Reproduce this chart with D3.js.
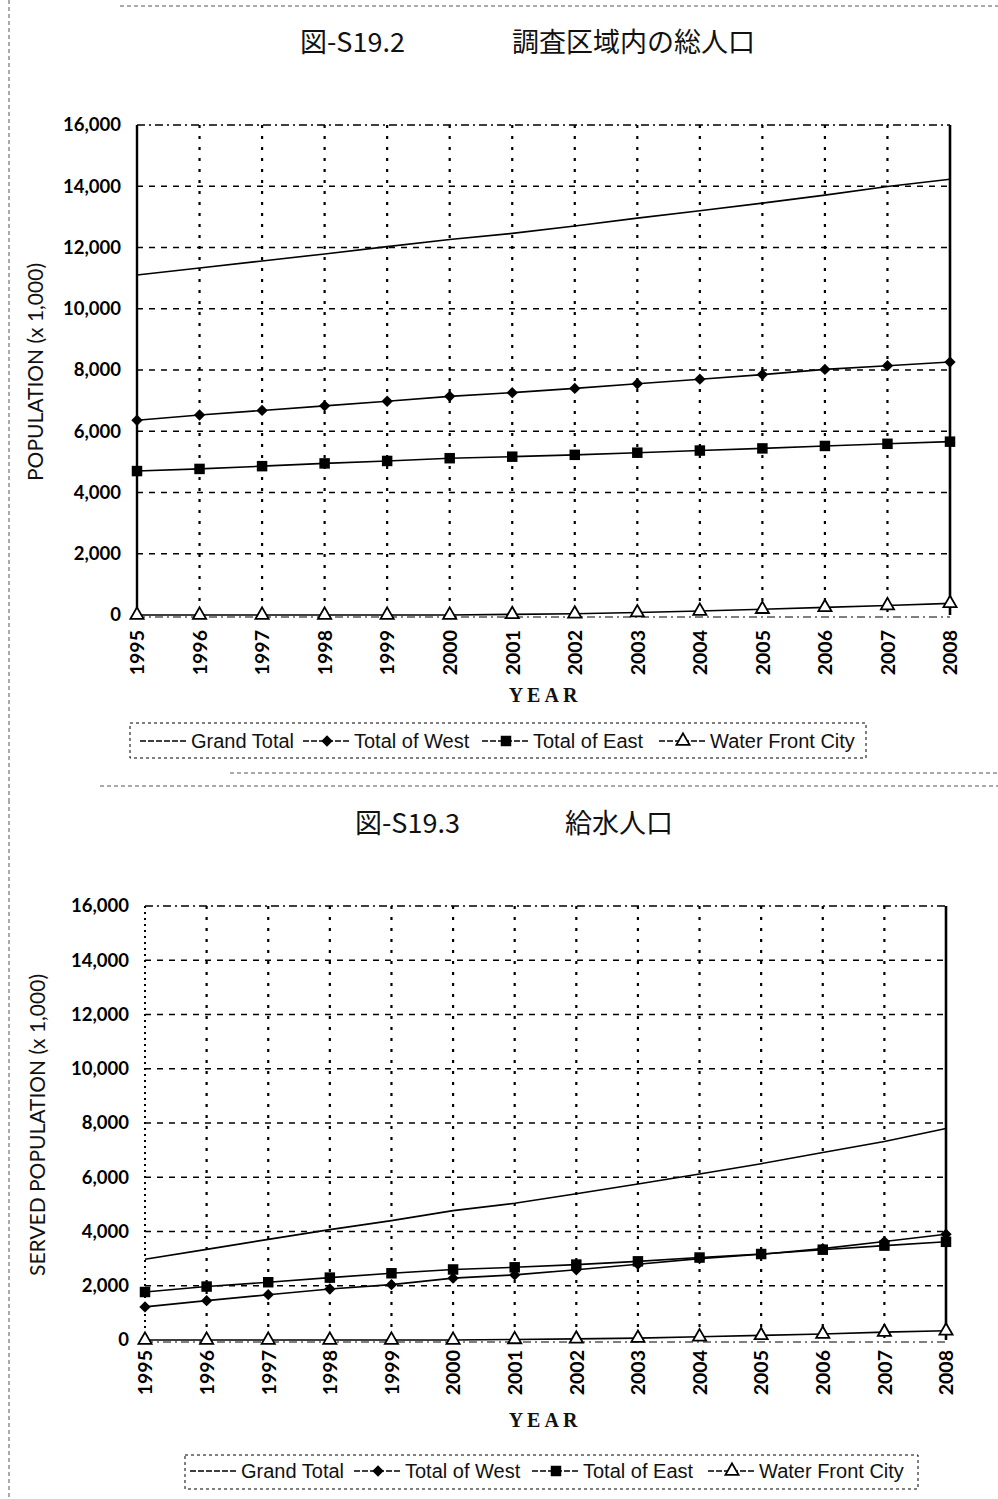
<!DOCTYPE html>
<head>
	<meta charset="utf-8">
	<script src="https://d3js.org/d3.v7.min.js"></script>
	<style>
		body { margin: 0; background: #fff; }
	</style>
</head>

<body>
	<script type="text/javascript">

		var w = 998;
		var h = 1499;

		// data (population, x 1,000 persons)
		var years = [1995, 1996, 1997, 1998, 1999, 2000, 2001, 2002, 2003, 2004, 2005, 2006, 2007, 2008];
		var yTicks = [0, 2000, 4000, 6000, 8000, 10000, 12000, 14000, 16000];
		var seriesNames = ["Grand Total", "Total of West", "Total of East", "Water Front City"];

		// 図-S19.2 調査区域内の総人口
		var totalGrand = [11100, 11330, 11560, 11790, 12030, 12260, 12460, 12700, 12960, 13200, 13450, 13710, 13990, 14230];
		var totalWest  = [6360, 6530, 6680, 6830, 6980, 7140, 7260, 7400, 7550, 7700, 7850, 8020, 8140, 8260];
		var totalEast  = [4700, 4770, 4860, 4950, 5030, 5120, 5170, 5230, 5300, 5370, 5440, 5520, 5590, 5660];
		var totalWater = [0, 0, 0, 0, 0, 0, 20, 40, 80, 130, 190, 250, 310, 380];

		// 図-S19.3 給水人口
		var servedGrand = [2980, 3340, 3710, 4070, 4400, 4770, 5040, 5390, 5750, 6120, 6500, 6910, 7320, 7800];
		var servedWest  = [1220, 1450, 1670, 1880, 2040, 2280, 2400, 2590, 2790, 3000, 3160, 3370, 3630, 3900];
		var servedEast  = [1770, 1970, 2130, 2300, 2460, 2600, 2680, 2780, 2900, 3040, 3170, 3330, 3480, 3620];
		var servedWater = [0, 0, 0, 0, 0, 0, 20, 40, 70, 120, 170, 220, 290, 340];

		var tickFont = "Lato, 'Open Sans', sans-serif";
		var legendFont = "'Liberation Sans Narrow', 'Liberation Sans', sans-serif";
		var titleFont = "'Noto Sans CJK JP', sans-serif";

		svg = d3.select("body")
				.append("svg")
				.attr("width", w)
				.attr("height", h);

		// scanned page edges
		var edges = [
			[120, 6, 998, 6], [9, 0, 9, 800], [9, 800, 9, 1499],
			[230, 773, 998, 773], [100, 786, 998, 786]
		];
		svg.selectAll("line.edge")
			.data(edges)
			.enter()
			.append("line")
			.attr("class", "edge")
			.attr("x1", function(d){ return d[0]; })
			.attr("y1", function(d){ return d[1]; })
			.attr("x2", function(d){ return d[2]; })
			.attr("y2", function(d){ return d[3]; })
			.attr("stroke", "#555")
			.attr("stroke-width", 1)
			.attr("stroke-dasharray", "4,3");

		var symbols = [null, "diamond", "square", "triangle"];

		function marker(sel, type) {
			if (type === "diamond") {
				sel.append("path")
					.attr("d", d3.symbol().type(d3.symbolSquare).size(64)())
					.attr("transform", "rotate(45)")
					.attr("fill", "#000");
			} else if (type === "square") {
				sel.append("path")
					.attr("d", d3.symbol().type(d3.symbolSquare).size(110)())
					.attr("fill", "#000");
			} else if (type === "triangle") {
				sel.append("path")
					.attr("d", d3.symbol().type(d3.symbolTriangle).size(75)())
					.attr("fill", "#fff")
					.attr("stroke", "#000")
					.attr("stroke-width", 1.8);
			}
		}

		function drawChart(opt) {
			var xScale = d3.scalePoint()
						.domain(years)
						.range([opt.x0, opt.x1]);
			var yScale = d3.scaleLinear()
						.domain([0, 16000])
						.range([opt.yBottom, opt.yTop]);

			var g = svg.append("g");

			// titles
			g.append("text")
				.text(opt.figNo)
				.attr("x", opt.figX)
				.attr("y", opt.titleY)
				.attr("font-family", titleFont)
				.attr("font-size", "27px")
				.attr("fill", "#111");
			g.append("text")
				.text(opt.title)
				.attr("x", opt.titleX)
				.attr("y", opt.titleY)
				.attr("font-family", titleFont)
				.attr("font-size", "27px")
				.attr("fill", "#111");

			// horizontal grid
			g.selectAll("line.hgrid")
				.data(yTicks.slice(1, -1))
				.enter()
				.append("line")
				.attr("x1", opt.x0)
				.attr("x2", opt.x1)
				.attr("y1", function(d){ return yScale(d); })
				.attr("y2", function(d){ return yScale(d); })
				.attr("stroke", "#000")
				.attr("stroke-width", 1.5)
				.attr("stroke-dasharray", "6,6");

			// vertical grid
			g.selectAll("line.vgrid")
				.data(years.slice(1, -1))
				.enter()
				.append("line")
				.attr("x1", function(d){ return xScale(d); })
				.attr("x2", function(d){ return xScale(d); })
				.attr("y1", yScale(16000))
				.attr("y2", yScale(0))
				.attr("stroke", "#000")
				.attr("stroke-width", 2.2)
				.attr("stroke-dasharray", "3,8");

			// frame
			g.append("line")
				.attr("x1", opt.x0).attr("x2", opt.x1)
				.attr("y1", yScale(16000)).attr("y2", yScale(16000))
				.attr("stroke", "#000").attr("stroke-width", 1.4)
				.attr("stroke-dasharray", "8,4,2,4");
			g.append("line")
				.attr("x1", opt.x0).attr("x2", opt.x1)
				.attr("y1", yScale(0) + 2).attr("y2", yScale(0) + 2)
				.attr("stroke", "#000").attr("stroke-width", 1)
				.attr("stroke-dasharray", "8,4,2,4");
			g.append("line")
				.attr("x1", opt.x0).attr("x2", opt.x0)
				.attr("y1", yScale(16000)).attr("y2", yScale(0))
				.attr("stroke", "#000")
				.attr("stroke-width", opt.leftSolid ? 2.4 : 2)
				.attr("stroke-dasharray", opt.leftSolid ? null : "2,4");
			g.append("line")
				.attr("x1", opt.x1).attr("x2", opt.x1)
				.attr("y1", yScale(16000)).attr("y2", yScale(0))
				.attr("stroke", "#000")
				.attr("stroke-width", 2.6);

			// y tick labels
			var yAxis = d3.axisLeft(yScale)
						.tickValues(yTicks)
						.tickSize(0)
						.tickPadding(0)
						.tickFormat(d3.format(","));
			var ya = g.append("g")
				.attr("transform", "translate(" + opt.yLabelX + ",0)")
				.call(yAxis);
			ya.select(".domain").remove();
			ya.selectAll("text")
				.attr("font-family", tickFont)
				.attr("font-size", "18.5px")
				.attr("font-weight", "bold")
				.attr("fill", "#000");

			// year labels
			var xAxis = d3.axisBottom(xScale)
						.tickSize(0);
			var xa = g.append("g")
				.attr("transform", "translate(0," + opt.yearY + ")")
				.call(xAxis);
			xa.select(".domain").remove();
			xa.selectAll("text")
				.attr("transform", "rotate(-90)")
				.attr("x", 0)
				.attr("y", 0)
				.attr("dy", "0.35em")
				.attr("text-anchor", "end")
				.attr("font-family", tickFont)
				.attr("font-size", "19.5px")
				.attr("font-weight", "bold")
				.attr("fill", "#000");

			// axis titles
			g.append("text")
				.text("YEAR")
				.attr("x", 545)
				.attr("y", opt.yearTitleY)
				.attr("text-anchor", "middle")
				.attr("letter-spacing", "4px")
				.attr("font-family", "'Liberation Serif', serif")
				.attr("font-size", "20px")
				.attr("font-weight", "bold")
				.attr("fill", "#111");
			g.append("text")
				.text(opt.yTitle)
				.attr("transform", "translate(" + opt.yTitleX + "," + opt.yTitleY + ") rotate(-90)")
				.attr("text-anchor", "middle")
				.attr("dy", "0.35em")
				.attr("font-family", tickFont)
				.attr("font-size", "21px")
				.attr("fill", "#111");

			// series
			var line = d3.line()
						.x(function(d, i){ return xScale(years[i]); })
						.y(function(d){ return yScale(d); });

			opt.series.forEach(function(vals, k) {
				g.append("path")
					.datum(vals)
					.attr("d", line)
					.attr("fill", "none")
					.attr("stroke", "#000")
					.attr("stroke-width", 1.6);
				if (symbols[k]) {
					g.selectAll("g.m" + k)
						.data(vals)
						.enter()
						.append("g")
						.attr("class", "m" + k)
						.attr("transform", function(d, i){
							return "translate(" + xScale(years[i]) + "," + yScale(d) + ")";
						})
						.each(function(){ marker(d3.select(this), symbols[k]); });
				}
			});

			// legend
			var lg = g.append("g");
			lg.append("rect")
				.attr("x", opt.legendBox[0])
				.attr("y", opt.legendBox[1])
				.attr("width", opt.legendBox[2] - opt.legendBox[0])
				.attr("height", opt.legendBox[3] - opt.legendBox[1])
				.attr("fill", "none")
				.attr("stroke", "#000")
				.attr("stroke-width", 1)
				.attr("stroke-dasharray", "3,3");
			var items = lg.selectAll("g.item")
				.data(seriesNames)
				.enter()
				.append("g")
				.attr("transform", function(d, i){
					return "translate(" + opt.legendX[i] + "," + opt.legendY + ")";
				});
			items.append("line")
				.attr("x1", 0)
				.attr("x2", 48)
				.attr("stroke", "#000")
				.attr("stroke-width", 1.4)
				.attr("stroke-dasharray", "6,2");
			items.each(function(d, i){
				var s = d3.select(this).append("g").attr("transform", "translate(24,0)");
				if (symbols[i]) marker(s, symbols[i]);
			});
			items.append("text")
				.text(function(d){ return d; })
				.attr("x", 51)
				.attr("dy", "0.35em")
				.attr("font-family", legendFont)
				.attr("font-size", "20px")
				.attr("fill", "#111");
		}

		drawChart({
			figNo: "図-S19.2", figX: 300, title: "調査区域内の総人口", titleX: 512, titleY: 52,
			x0: 137, x1: 950, yTop: 125, yBottom: 615, leftSolid: true,
			yLabelX: 121, yearY: 630, yearTitleY: 702,
			yTitle: "POPULATION (x 1,000)", yTitleX: 36, yTitleY: 372,
			series: [totalGrand, totalWest, totalEast, totalWater],
			legendBox: [130, 723, 866, 758], legendY: 741,
			legendX: [140, 303, 482, 659]
		});

		drawChart({
			figNo: "図-S19.3", figX: 355, title: "給水人口", titleX: 565, titleY: 833,
			x0: 145, x1: 946, yTop: 906, yBottom: 1340, leftSolid: false,
			yLabelX: 129, yearY: 1350, yearTitleY: 1427,
			yTitle: "SERVED POPULATION (x 1,000)", yTitleX: 38, yTitleY: 1125,
			series: [servedGrand, servedWest, servedEast, servedWater],
			legendBox: [185, 1455, 918, 1489], legendY: 1471,
			legendX: [190, 354, 532, 708]
		});

	</script>
</body>
